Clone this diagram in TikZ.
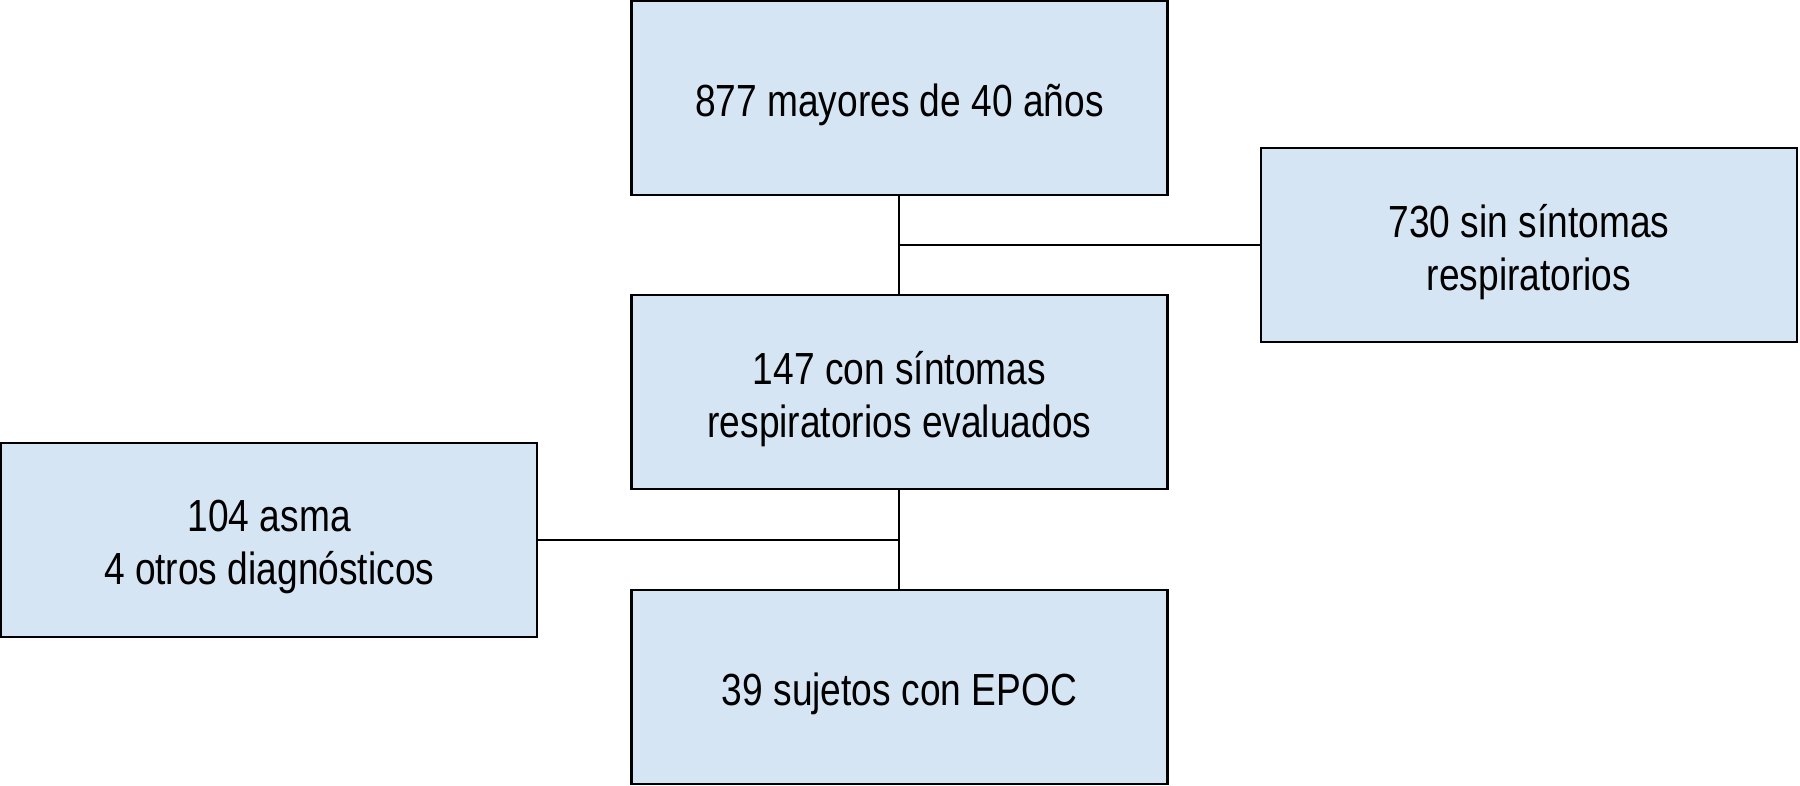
\documentclass[tikz,border=0pt]{standalone}
\usepackage{fontspec}
\setmainfont[FakeStretch=0.825]{Liberation Sans}
\definecolor{boxfill}{RGB}{214,229,243}
\begin{document}
\begin{tikzpicture}[x=1pt,y=-1pt,
  flowbox/.style={draw=black, line width=2.4pt, fill=boxfill, minimum width=536pt, minimum height=194pt,
    inner sep=0pt},
  boxtext/.style={align=center, inner sep=0pt, yshift=-7pt, font=\fontsize{45}{53}\selectfont},
  link/.style={line width=2pt}]
\useasboundingbox (0,0) rectangle (1800,786);
\node[flowbox] (top) at (899.4,98.2) {};
\node[flowbox] (sin) at (1529,245.2) {};
\node[flowbox] (con) at (899.4,392) {};
\node[flowbox] (asma) at (269.2,540.2) {};
\node[flowbox] (epoc) at (899.4,687.2) {};
\node[boxtext] (ttop) at (top.center) {877 mayores de 40 años};
\node[boxtext] (tsin) at (sin.center) {730 sin síntomas\\respiratorios};
\node[boxtext] (tcon) at (con.center) {147 con síntomas\\respiratorios evaluados};
\node[boxtext] (tasma) at (asma.center) {104 asma\\4 otros diagnósticos};
\node[boxtext] (tepoc) at (epoc.center) {39 sujetos con EPOC};
\coordinate (j1) at (top.south |- sin.west);
\coordinate (j2) at (con.south |- asma.east);
\draw[link] (top.south) -- (con.north);
\draw[link] (j1) -- (sin.west);
\draw[link] (con.south) -- (epoc.north);
\draw[link] (j2) -- (asma.east);
\end{tikzpicture}
\end{document}
